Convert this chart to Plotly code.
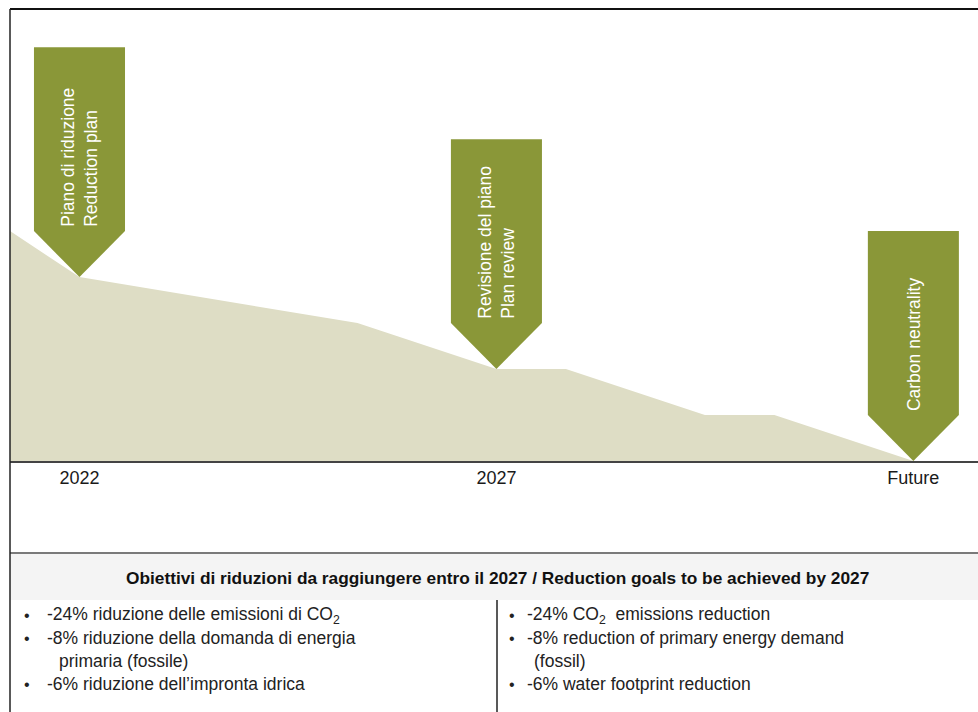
import plotly.graph_objects as go

# ---- data ----
# x positions on a uniform timeline (0 = 2022, 6 = 2027, 12 = Future)
path_x = [-1, 0, 4, 6, 7, 9, 10, 12]
path_y = [5, 4, 3, 2, 2, 1, 1, 0]

tick_vals = [0, 6, 12]
tick_text = ["2022", "2027", "Future"]

event_x = [0, 6, 12]
event_y = [4, 2, 0]
event_labels = ["Piano di riduzione<br>Reduction plan",
                "Revisione del piano<br>Plan review",
                "Carbon neutrality"]

table_title = "Obiettivi di riduzioni da raggiungere entro il 2027 / Reduction goals to be achieved by 2027"
goals_it = ["-24% riduzione delle emissioni di CO<sub>2</sub>",
            "-8% riduzione della domanda di energia",
            "primaria (fossile)",
            "-6% riduzione dell\u2019impronta idrica"]
goals_en = ["-24% CO<sub>2</sub>  emissions reduction",
            "-8% reduction of primary energy demand",
            "(fossil)",
            "-6% water footprint reduction"]
goal_bullet = [True, True, False, True]

# ---- style ----
FONT = "Liberation Sans, Arial, sans-serif"
GREEN = "#8A9738"
AREA = "#DEDDC5"
W, H = 978, 712
ML, MR, MT, MB = 10, 0, 9, 251
PW, PH = W - ML - MR, H - MT - MB
ARROW_HALF = 0.655
ARROW_SHOULDER = 1.0
ARROW_BODY = 4.0


def px_x(px):
    return (px - ML) / PW


def px_y(py):
    return (H - MB - py) / PH


fig = go.Figure()

fig.add_trace(go.Scatter(x=path_x, y=path_y, mode="lines", fill="tozeroy",
                         fillcolor=AREA, line=dict(width=0, color=AREA),
                         hoverinfo="skip", showlegend=False))

annotations = []
for ex, ey, lab in zip(event_x, event_y, event_labels):
    sh = ey + ARROW_SHOULDER
    top = sh + ARROW_BODY
    xs = [ex - ARROW_HALF, ex - ARROW_HALF, ex, ex + ARROW_HALF, ex + ARROW_HALF, ex - ARROW_HALF]
    ys = [top, sh, ey, sh, top, top]
    fig.add_trace(go.Scatter(x=xs, y=ys, mode="lines", fill="toself",
                             fillcolor=GREEN, line=dict(width=0, color=GREEN),
                             hoverinfo="skip", showlegend=False))
    annotations.append(dict(x=ex, y=sh + 0.05, xref="x", yref="y", text=lab,
                            textangle=-90, showarrow=False, xanchor="center",
                            yanchor="bottom", align="left",
                            font=dict(family=FONT, size=17.5, color="white")))

# table title
annotations.append(dict(x=px_x(497), y=px_y(578), xref="paper", yref="paper",
                        text="<b>" + table_title + "</b>", showarrow=False,
                        xanchor="center", yanchor="middle",
                        font=dict(family=FONT, size=17.3, color="#111111")))

line_py = [615, 638, 661, 684]
for col_bullet, col_text, col_cont, items in [(27, 45, 57, goals_it), (512, 525, 532, goals_en)]:
    for py, txt, b in zip(line_py, items, goal_bullet):
        if b:
            annotations.append(dict(x=px_x(col_bullet), y=px_y(py), xref="paper", yref="paper",
                                    text="\u2022", showarrow=False, xanchor="center",
                                    yanchor="middle",
                                    font=dict(family=FONT, size=16, color="#222222")))
        annotations.append(dict(x=px_x(col_text if b else col_cont), y=px_y(py),
                                xref="paper", yref="paper", text=txt, showarrow=False,
                                xanchor="left", yanchor="middle",
                                font=dict(family=FONT, size=17.5, color="#222222")))

shapes = [
    dict(type="rect", xref="paper", yref="paper", x0=0, x1=1, y0=px_y(600), y1=px_y(553),
         fillcolor="#F4F4F4", line=dict(width=0), layer="below"),
    dict(type="line", xref="paper", yref="paper", x0=0, x1=1, y0=px_y(553), y1=px_y(553),
         line=dict(color="#7A7A7A", width=2)),
    dict(type="line", xref="paper", yref="paper", x0=px_x(497), x1=px_x(497),
         y0=px_y(712), y1=px_y(600), line=dict(color="#222222", width=1.5)),
    dict(type="line", xref="paper", yref="paper", x0=0, x1=1, y0=1, y1=1,
         line=dict(color="#111111", width=2)),
    dict(type="line", xref="paper", yref="paper", x0=0, x1=0, y0=px_y(712), y1=1,
         line=dict(color="#222222", width=1.5)),
]

fig.update_layout(
    width=W, height=H,
    margin=dict(l=ML, r=MR, t=MT, b=MB, pad=0),
    paper_bgcolor="white", plot_bgcolor="white",
    showlegend=False,
    annotations=annotations,
    shapes=shapes,
    xaxis=dict(range=[-1, 12.93], tickvals=tick_vals, ticktext=tick_text,
               showgrid=False, zeroline=False, showline=True, linecolor="#444444",
               linewidth=1.5, ticks="", tickfont=dict(family=FONT, size=18, color="#1a1a1a"),
               fixedrange=True),
    yaxis=dict(range=[0, 9.83], showgrid=False, zeroline=False, showticklabels=False,
               showline=False, fixedrange=True),
)

fig.write_html("out.html", config={"displayModeBar": False},
               post_script="document.body.style.margin='0';document.body.style.overflow='hidden';")
